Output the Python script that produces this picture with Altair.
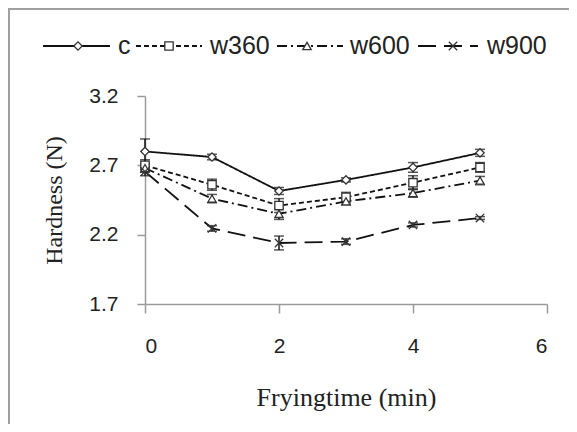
import altair as alt
import pandas as pd

# ---- data ----
times = [0, 1, 2, 3, 4, 5]
series = ["c", "w360", "w600", "w900"]
c_vals = [2.80, 2.76, 2.515, 2.595, 2.685, 2.79]
c_err = [0.09, 0.02, 0.025, 0.015, 0.035, 0.025]
w360_vals = [2.70, 2.56, 2.41, 2.47, 2.575, 2.685]
w360_err = [0.04, 0.04, 0.05, 0.035, 0.05, 0.035]
w600_vals = [2.68, 2.46, 2.35, 2.44, 2.50, 2.59]
w600_err = [0.03, 0.03, 0.04, 0.02, 0.03, 0.03]
w900_vals = [2.655, 2.245, 2.14, 2.15, 2.27, 2.32]
w900_err = [0.03, 0.02, 0.05, 0.02, 0.015, 0.01]

x_ticks = [0, 2, 4, 6]
y_ticks = [1.7, 2.2, 2.7, 3.2]

vals = {"c": c_vals, "w360": w360_vals, "w600": w600_vals, "w900": w900_vals}
errs = {"c": c_err, "w360": w360_err, "w600": w600_err, "w900": w900_err}
rows = []
for s in series:
    for t, v, e in zip(times, vals[s], errs[s]):
        rows.append({"series": s, "time": t, "hardness": v, "lo": v - e, "hi": v + e})
df = pd.DataFrame(rows)

# ---- styles ----
dash_range = [[1, 0], [5, 3], [10, 4, 2, 4], [18, 8]]
xshape = "M-1,-1L1,1M-1,1L1,-1"
shape_range = ["diamond", "square", "triangle-up", xshape]
ink = "#111111"
axis_grey = "#9a9a9a"

xs = alt.Scale(domain=[0, 6], nice=False, zero=False)
ys = alt.Scale(domain=[1.7, 3.2], nice=False, zero=False)

base = alt.Chart(df)

lines = base.mark_line(color=ink, strokeWidth=1.8).encode(
    x=alt.X("time:Q", scale=xs,
            axis=alt.Axis(values=x_ticks, format="d", title="Fryingtime (min)", grid=False,
                          tickSize=9, labelPadding=22, titlePadding=28,
                          domainColor=axis_grey, tickColor=axis_grey, domainWidth=1.5,
                          tickWidth=1.5, labelFont="Liberation Sans", labelFontSize=21,
                          labelColor="#222", titleFont="Liberation Serif",
                          titleFontSize=26, titleFontWeight="normal", titleColor="#222")),
    y=alt.Y("hardness:Q", scale=ys,
            axis=alt.Axis(values=y_ticks, format=".1f", title="Hardness (N)", grid=False,
                          tickSize=8, labelPadding=19, titlePadding=22,
                          domainColor=axis_grey, tickColor=axis_grey, domainWidth=1.5,
                          tickWidth=1.5, labelFont="Liberation Sans", labelFontSize=21,
                          labelColor="#222", titleFont="Liberation Serif",
                          titleFontSize=24, titleFontWeight="normal", titleColor="#222")),
    strokeDash=alt.StrokeDash("series:N", scale=alt.Scale(domain=series, range=dash_range),
                              legend=None),
    detail="series:N",
)

err_rule = base.mark_rule(color=ink, strokeWidth=1.5).encode(
    x=alt.X("time:Q", scale=xs), y=alt.Y("lo:Q", scale=ys), y2="hi:Q")
cap_lo = base.mark_tick(color=ink, thickness=1.5, size=10, orient="horizontal").encode(
    x=alt.X("time:Q", scale=xs), y=alt.Y("lo:Q", scale=ys))
cap_hi = base.mark_tick(color=ink, thickness=1.5, size=10, orient="horizontal").encode(
    x=alt.X("time:Q", scale=xs), y=alt.Y("hi:Q", scale=ys))

points = base.mark_point(filled=True, fill="white", stroke="#333", strokeWidth=1.3,
                         size=70, opacity=1).encode(
    x=alt.X("time:Q", scale=xs), y=alt.Y("hardness:Q", scale=ys),
    shape=alt.Shape("series:N", scale=alt.Scale(domain=series, range=shape_range),
                    legend=None),
)

# ---- manual legend (layout positions relative to plot area) ----
leg_y = -50
leg_layout = {
    "c": (-102, -35, -67, -27),
    "w360": (-9, 57, 24, 65),
    "w600": (132, 198, 162, 205),
    "w900": (273, 333, 308, 342),
}
legend_layers = []
for s, dash, shp in zip(series, dash_range, shape_range):
    x0, x1, xm, xt = leg_layout[s]
    one = alt.Chart(pd.DataFrame({"series": [s]}))
    legend_layers.append(one.mark_rule(color=ink, strokeWidth=2, strokeDash=dash).encode(
        x=alt.value(x0), x2=alt.value(x1), y=alt.value(leg_y)))
    legend_layers.append(one.mark_point(filled=True, fill="white", stroke="#333",
                                        strokeWidth=1.3, size=70, shape=shp, opacity=1).encode(
        x=alt.value(xm), y=alt.value(leg_y)))
    legend_layers.append(one.mark_text(align="left", baseline="middle", font="Liberation Sans",
                                       fontSize=25, color="#222").encode(
        x=alt.value(xt), y=alt.value(leg_y), text="series:N"))

# ---- outer frame (left and top borders) ----
frame = alt.Chart(pd.DataFrame({"a": [0]}))
frame_top = frame.mark_rule(color="#a0a0a0", strokeWidth=2).encode(
    x=alt.value(-137), x2=alt.value(430), y=alt.value(-87))
frame_left = frame.mark_rule(color="#a0a0a0", strokeWidth=2).encode(
    x=alt.value(-136), y=alt.value(-88), y2=alt.value(330))

chart = alt.layer(frame_top, frame_left, lines, err_rule, cap_lo, cap_hi, points,
                  *legend_layers).properties(
    width=402, height=208,
    background="white",
    autosize=alt.AutoSizeParams(type="none"),
    padding={"left": 137, "top": 88, "right": 22, "bottom": 120},
).configure_view(stroke="transparent", strokeWidth=0)

chart.save("out.html", embed_options={"renderer": "svg", "actions": False})
